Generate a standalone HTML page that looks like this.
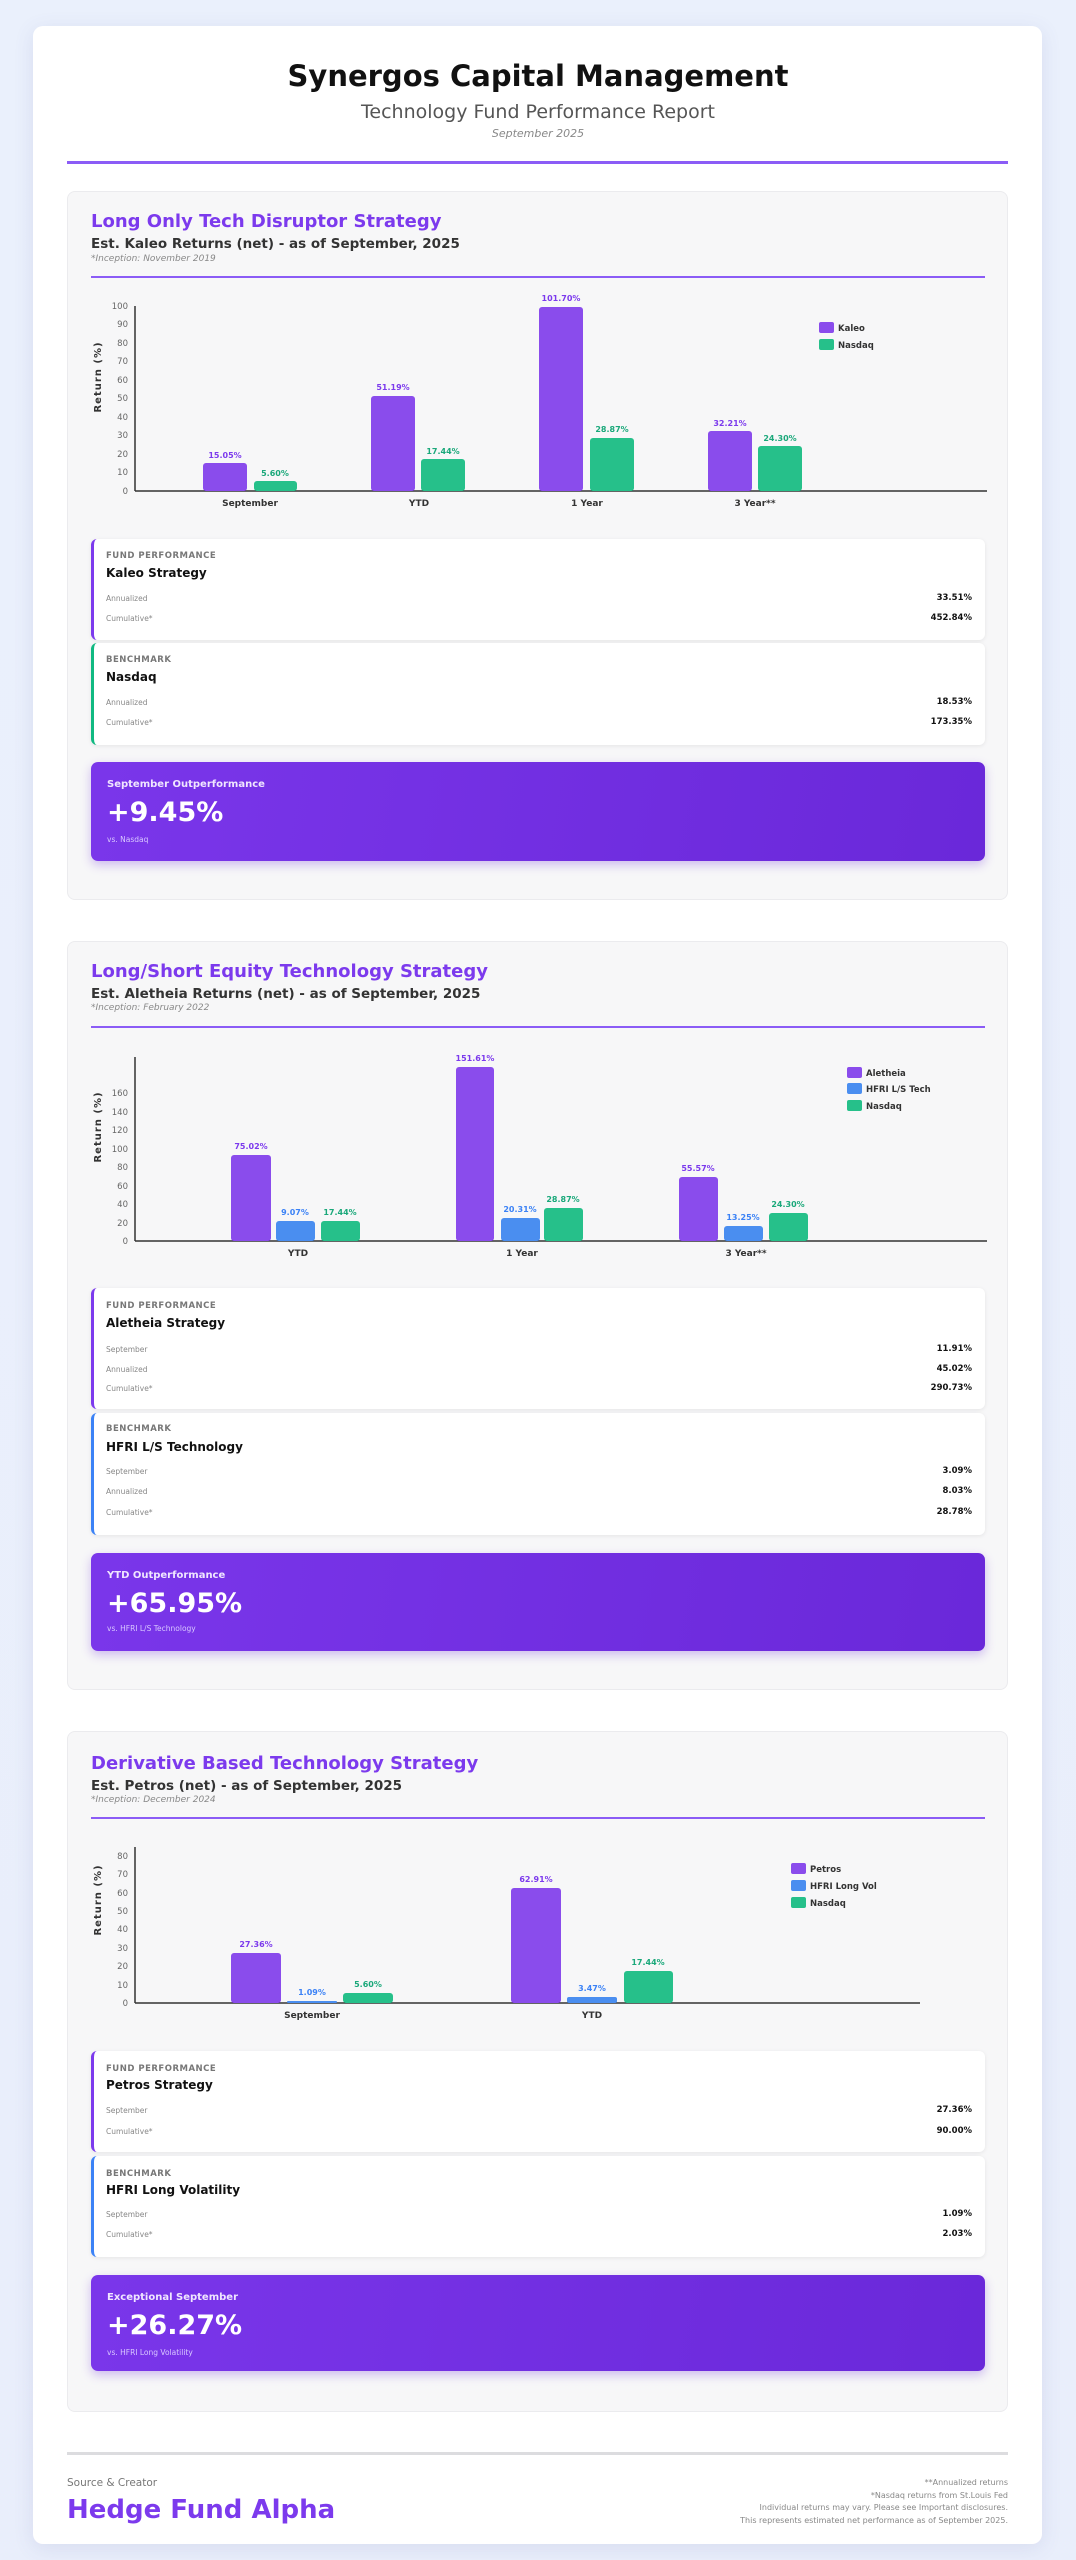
<!DOCTYPE html>
<html><head><meta charset="utf-8"><style>
*{margin:0;padding:0;box-sizing:border-box}
body{width:1076px;height:2560px;position:relative;font-family:"DejaVu Sans","Liberation Sans",sans-serif;background:linear-gradient(180deg,#eaf0fc 0%,#e9eefb 100%);overflow:hidden}
.a{position:absolute;white-space:nowrap}
.main{position:absolute;left:33px;top:26px;width:1009px;height:2518px;background:#fff;border-radius:10px;box-shadow:0 4px 20px rgba(80,90,160,.12)}
.sec{position:absolute;left:67px;width:941px;background:#f7f7f8;border:1px solid #ebebee;border-radius:8px}
.card{position:absolute;left:91px;width:894px;background:#fff;border-radius:6px;box-shadow:0 1px 4px rgba(0,0,0,.08)}
.out{position:absolute;left:91px;width:894px;border-radius:7px;background:linear-gradient(100deg,#7a36ea,#6a28d9);box-shadow:0 4px 10px rgba(110,50,220,.3)}
.st{font-size:18px;font-weight:bold;color:#7c3aed;left:91px}
.ss{font-size:13.5px;font-weight:bold;color:#333;left:91px}
.inc{font-size:9px;font-style:italic;color:#888;left:91px}
.ln{position:absolute;left:91px;width:894px;height:2px;background:#8b5cf6}
.lab{font-size:8.5px;font-weight:bold;color:#777;letter-spacing:.5px;left:106px}
.nm{font-size:12px;font-weight:bold;color:#111;left:106px}
.rl{font-size:7.5px;color:#888;left:106px}
.rv{font-size:8.5px;font-weight:bold;color:#111;right:104px}
.ot{font-size:10px;font-weight:bold;color:#f0e6ff;left:107px}
.ov{font-size:27px;font-weight:bold;color:#fff;left:107px}
.vs{font-size:7.5px;color:#d9c8ff;left:107px}
svg text{font-family:"DejaVu Sans","Liberation Sans",sans-serif}
</style></head><body>
<div class="main"></div>
<div class="a" style="left:0;width:1076px;text-align:center;top:59px;font-size:29px;font-weight:bold;color:#111">Synergos Capital Management</div>
<div class="a" style="left:0;width:1076px;text-align:center;top:101px;font-size:19px;color:#555">Technology Fund Performance Report</div>
<div class="a" style="left:0;width:1076px;text-align:center;top:127px;font-size:11px;font-style:italic;color:#888">September 2025</div>
<div class="a" style="left:67px;top:161px;width:941px;height:3px;background:#8b5cf6"></div>

<div class="sec" style="top:191px;height:709px"></div>
<div class="sec" style="top:941px;height:749px"></div>
<div class="sec" style="top:1731px;height:681px"></div>

<!-- Section 1 -->
<div class="a st" style="top:211px">Long Only Tech Disruptor Strategy</div>
<div class="a ss" style="top:236px">Est. Kaleo Returns (net) - as of September, 2025</div>
<div class="a inc" style="top:254px">*Inception: November 2019</div>
<div class="ln" style="top:276px"></div>
<div class="card" style="top:539px;height:101px;border-left:3px solid #7c3aed"></div>
<div class="card" style="top:643px;height:102px;border-left:3px solid #10b981"></div>
<div class="a lab" style="top:551px">FUND PERFORMANCE</div>
<div class="a nm" style="top:566px">Kaleo Strategy</div>
<div class="a rl" style="top:594px">Annualized</div><div class="a rv" style="top:593px">33.51%</div>
<div class="a rl" style="top:614px">Cumulative*</div><div class="a rv" style="top:613px">452.84%</div>
<div class="a lab" style="top:655px">BENCHMARK</div>
<div class="a nm" style="top:670px">Nasdaq</div>
<div class="a rl" style="top:698px">Annualized</div><div class="a rv" style="top:697px">18.53%</div>
<div class="a rl" style="top:718px">Cumulative*</div><div class="a rv" style="top:717px">173.35%</div>
<div class="out" style="top:762px;height:99px"></div>
<div class="a ot" style="top:779px">September Outperformance</div>
<div class="a ov" style="top:797px">+9.45%</div>
<div class="a vs" style="top:835px">vs. Nasdaq</div>

<!-- Section 2 -->
<div class="a st" style="top:961px">Long/Short Equity Technology Strategy</div>
<div class="a ss" style="top:986px">Est. Aletheia Returns (net) - as of September, 2025</div>
<div class="a inc" style="top:1003px">*Inception: February 2022</div>
<div class="ln" style="top:1026px"></div>
<div class="card" style="top:1288px;height:121px;border-left:3px solid #7c3aed"></div>
<div class="card" style="top:1413px;height:122px;border-left:3px solid #3b82f6"></div>
<div class="a lab" style="top:1301px">FUND PERFORMANCE</div>
<div class="a nm" style="top:1316px">Aletheia Strategy</div>
<div class="a rl" style="top:1345px">September</div><div class="a rv" style="top:1344px">11.91%</div>
<div class="a rl" style="top:1365px">Annualized</div><div class="a rv" style="top:1364px">45.02%</div>
<div class="a rl" style="top:1384px">Cumulative*</div><div class="a rv" style="top:1383px">290.73%</div>
<div class="a lab" style="top:1424px">BENCHMARK</div>
<div class="a nm" style="top:1440px">HFRI L/S Technology</div>
<div class="a rl" style="top:1467px">September</div><div class="a rv" style="top:1466px">3.09%</div>
<div class="a rl" style="top:1487px">Annualized</div><div class="a rv" style="top:1486px">8.03%</div>
<div class="a rl" style="top:1508px">Cumulative*</div><div class="a rv" style="top:1507px">28.78%</div>
<div class="out" style="top:1553px;height:98px"></div>
<div class="a ot" style="top:1570px">YTD Outperformance</div>
<div class="a ov" style="top:1588px">+65.95%</div>
<div class="a vs" style="top:1624px">vs. HFRI L/S Technology</div>

<!-- Section 3 -->
<div class="a st" style="top:1753px">Derivative Based Technology Strategy</div>
<div class="a ss" style="top:1778px">Est. Petros (net) - as of September, 2025</div>
<div class="a inc" style="top:1795px">*Inception: December 2024</div>
<div class="ln" style="top:1817px"></div>
<div class="card" style="top:2051px;height:101px;border-left:3px solid #7c3aed"></div>
<div class="card" style="top:2156px;height:101px;border-left:3px solid #3b82f6"></div>
<div class="a lab" style="top:2064px">FUND PERFORMANCE</div>
<div class="a nm" style="top:2078px">Petros Strategy</div>
<div class="a rl" style="top:2106px">September</div><div class="a rv" style="top:2105px">27.36%</div>
<div class="a rl" style="top:2127px">Cumulative*</div><div class="a rv" style="top:2126px">90.00%</div>
<div class="a lab" style="top:2169px">BENCHMARK</div>
<div class="a nm" style="top:2183px">HFRI Long Volatility</div>
<div class="a rl" style="top:2210px">September</div><div class="a rv" style="top:2209px">1.09%</div>
<div class="a rl" style="top:2230px">Cumulative*</div><div class="a rv" style="top:2229px">2.03%</div>
<div class="out" style="top:2275px;height:96px"></div>
<div class="a ot" style="top:2292px">Exceptional September</div>
<div class="a ov" style="top:2310px">+26.27%</div>
<div class="a vs" style="top:2348px">vs. HFRI Long Volatility</div>

<!-- Footer -->
<div class="a" style="left:67px;top:2452px;width:941px;height:3px;background:#dcdcdf"></div>
<div class="a" style="left:67px;top:2477px;font-size:10.5px;color:#777">Source &amp; Creator</div>
<div class="a" style="left:67px;top:2495px;font-size:26px;font-weight:bold;color:#7c3aed">Hedge Fund Alpha</div>
<div class="a" style="right:68px;top:2477px;font-size:8px;color:#888;text-align:right;line-height:12.5px">**Annualized returns<br>*Nasdaq returns from St.Louis Fed<br>Individual returns may vary. Please see Important disclosures.<br>This represents estimated net performance as of September 2025.</div>

<svg class="a" style="left:0;top:0" width="1076" height="2560" viewBox="0 0 1076 2560">
<g font-size="8.5" fill="#666" text-anchor="end">
<text x="128" y="494">0</text><text x="128" y="475">10</text><text x="128" y="457">20</text><text x="128" y="438">30</text><text x="128" y="420">40</text><text x="128" y="401">50</text><text x="128" y="383">60</text><text x="128" y="364">70</text><text x="128" y="346">80</text><text x="128" y="327">90</text><text x="128" y="309">100</text>
<text x="128" y="1244">0</text><text x="128" y="1226">20</text><text x="128" y="1207">40</text><text x="128" y="1189">60</text><text x="128" y="1170">80</text><text x="128" y="1152">100</text><text x="128" y="1133">120</text><text x="128" y="1115">140</text><text x="128" y="1096">160</text>
<text x="128" y="2006">0</text><text x="128" y="1988">10</text><text x="128" y="1969">20</text><text x="128" y="1951">30</text><text x="128" y="1932">40</text><text x="128" y="1914">50</text><text x="128" y="1896">60</text><text x="128" y="1877">70</text><text x="128" y="1859">80</text>
</g>
<g font-size="10" font-weight="bold" fill="#333" letter-spacing="1">
<text transform="translate(101,377) rotate(-90)" text-anchor="middle">Return (%)</text>
<text transform="translate(101,1127) rotate(-90)" text-anchor="middle">Return (%)</text>
<text transform="translate(101,1900) rotate(-90)" text-anchor="middle">Return (%)</text>
</g>
<g stroke="#333" stroke-width="1.5">
<line x1="135" y1="306" x2="135" y2="491"/><line x1="135" y1="491" x2="987" y2="491"/>
<line x1="135" y1="1057" x2="135" y2="1241"/><line x1="135" y1="1241" x2="987" y2="1241"/>
<line x1="135" y1="1847" x2="135" y2="2003"/><line x1="135" y1="2003" x2="920" y2="2003"/>
</g>
<g fill="#8a4cec">
<rect x="203" y="463" width="44" height="28" rx="3"/><rect x="371" y="396" width="44" height="95" rx="3"/><rect x="539" y="307" width="44" height="184" rx="3"/><rect x="708" y="431" width="44" height="60" rx="3"/>
</g>
<g fill="#26c08a">
<rect x="254" y="481" width="43" height="10" rx="3"/><rect x="421" y="459" width="44" height="32" rx="3"/><rect x="590" y="438" width="44" height="53" rx="3"/><rect x="758" y="446" width="44" height="45" rx="3"/>
</g>
<g font-size="8" font-weight="bold" text-anchor="middle">
<g fill="#7c3aed"><text x="225" y="458">15.05%</text><text x="393" y="390">51.19%</text><text x="561" y="301">101.70%</text><text x="730" y="426">32.21%</text></g>
<g fill="#1aa87a"><text x="275" y="476">5.60%</text><text x="443" y="454">17.44%</text><text x="612" y="432">28.87%</text><text x="780" y="441">24.30%</text></g>
</g>
<g fill="#8a4cec"><rect x="231" y="1155" width="40" height="86" rx="3"/><rect x="456" y="1067" width="38" height="174" rx="3"/><rect x="679" y="1177" width="39" height="64" rx="3"/></g>
<g fill="#4a8ef0"><rect x="276" y="1221" width="39" height="20" rx="3"/><rect x="501" y="1218" width="39" height="23" rx="3"/><rect x="724" y="1226" width="39" height="15" rx="3"/></g>
<g fill="#26c08a"><rect x="321" y="1221" width="39" height="20" rx="3"/><rect x="544" y="1208" width="39" height="33" rx="3"/><rect x="769" y="1213" width="39" height="28" rx="3"/></g>
<g font-size="8" font-weight="bold" text-anchor="middle">
<g fill="#7c3aed"><text x="251" y="1149">75.02%</text><text x="475" y="1061">151.61%</text><text x="698" y="1171">55.57%</text></g>
<g fill="#3b82f6"><text x="295" y="1215">9.07%</text><text x="520" y="1212">20.31%</text><text x="743" y="1220">13.25%</text></g>
<g fill="#1aa87a"><text x="340" y="1215">17.44%</text><text x="563" y="1202">28.87%</text><text x="788" y="1207">24.30%</text></g>
</g>
<g fill="#8a4cec"><rect x="231" y="1953" width="50" height="50" rx="3"/><rect x="511" y="1888" width="50" height="115" rx="3"/></g>
<g fill="#4a8ef0"><rect x="287" y="2001" width="50" height="2" rx="1"/><rect x="567" y="1997" width="50" height="6" rx="2"/></g>
<g fill="#26c08a"><rect x="343" y="1993" width="50" height="10" rx="3"/><rect x="624" y="1971" width="49" height="32" rx="3"/></g>
<g font-size="8" font-weight="bold" text-anchor="middle">
<g fill="#7c3aed"><text x="256" y="1947">27.36%</text><text x="536" y="1882">62.91%</text></g>
<g fill="#3b82f6"><text x="312" y="1995">1.09%</text><text x="592" y="1991">3.47%</text></g>
<g fill="#1aa87a"><text x="368" y="1987">5.60%</text><text x="648" y="1965">17.44%</text></g>
</g>
<g font-size="9" font-weight="bold" fill="#333" text-anchor="middle">
<text x="250" y="506">September</text><text x="419" y="506">YTD</text><text x="587" y="506">1 Year</text><text x="755" y="506">3 Year**</text>
<text x="298" y="1256">YTD</text><text x="522" y="1256">1 Year</text><text x="746" y="1256">3 Year**</text>
<text x="312" y="2018">September</text><text x="592" y="2018">YTD</text>
</g>
<g font-size="8.5" font-weight="bold" fill="#333">
<rect x="819" y="322" width="15" height="11" rx="2" fill="#8a4cec"/><text x="838" y="331">Kaleo</text>
<rect x="819" y="339" width="15" height="11" rx="2" fill="#26c08a"/><text x="838" y="348">Nasdaq</text>
<rect x="847" y="1067" width="15" height="11" rx="2" fill="#8a4cec"/><text x="866" y="1076">Aletheia</text>
<rect x="847" y="1083" width="15" height="11" rx="2" fill="#4a8ef0"/><text x="866" y="1092">HFRI L/S Tech</text>
<rect x="847" y="1100" width="15" height="11" rx="2" fill="#26c08a"/><text x="866" y="1109">Nasdaq</text>
<rect x="791" y="1863" width="15" height="11" rx="2" fill="#8a4cec"/><text x="810" y="1872">Petros</text>
<rect x="791" y="1880" width="15" height="11" rx="2" fill="#4a8ef0"/><text x="810" y="1889">HFRI Long Vol</text>
<rect x="791" y="1897" width="15" height="11" rx="2" fill="#26c08a"/><text x="810" y="1906">Nasdaq</text>
</g>
</svg>
</body></html>
